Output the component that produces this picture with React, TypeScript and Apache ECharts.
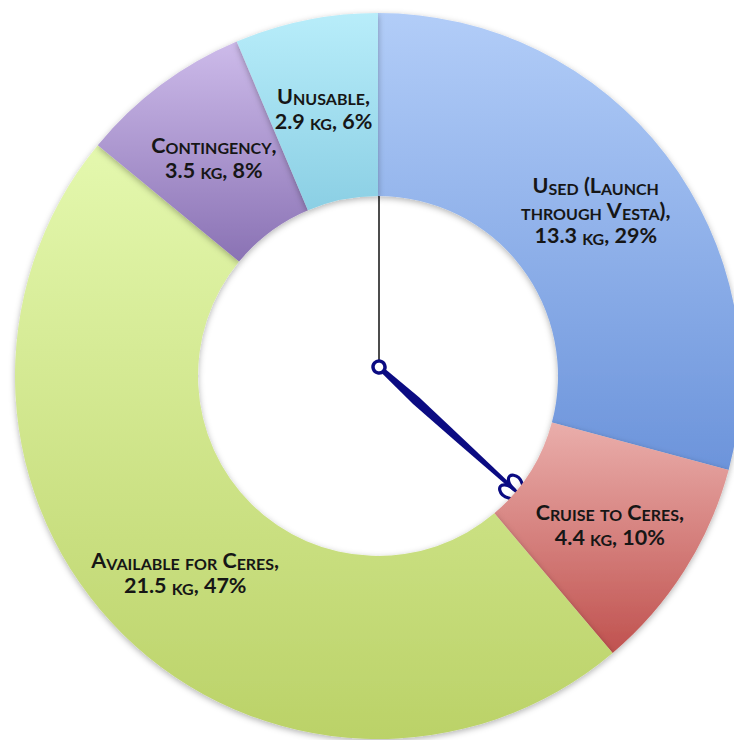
import React, { useEffect, useRef } from "react";
import * as echarts from "echarts";

// ---- data ----
const categories = [
  "Used (Launch through Vesta)",
  "Cruise to Ceres",
  "Available for Ceres",
  "Contingency",
  "Unusable",
];
const labelLines = [
  "Used (Launch\nthrough Vesta),",
  "Cruise to Ceres,",
  "Available for Ceres,",
  "Contingency,",
  "Unusable,",
];
const massKg = [13.3, 4.4, 21.5, 3.5, 2.9];
const percents = [29, 10, 47, 8, 6];

// ---- styles ----
const sliceColors: [string, string][] = [
  ["#b2cdf8", "#6c94db"],
  ["#eaaeab", "#c0524f"],
  ["#e4f8ae", "#bbd268"],
  ["#cdbbea", "#8a72b4"],
  ["#b8edfa", "#8bcfe4"],
];

const FONT = "Lato, 'Open Sans', sans-serif";
const BIG = 21.5;
const SMALL = 16;
const LH = 25;
const NAVY = "#0b0b82";

echarts.graphic.registerShape(
  "arrowTip",
  echarts.graphic.extendPath(
    "M206 0 L184 -10 C175 -15 166 -8 172 -3 C175 0 179 0 183 0 M206 0 L184 10 C175 15 166 8 172 3 C175 0 179 0 183 0",
    {}
  )
);

function smallCaps(line: string): string {
  let out = "";
  let cur = "";
  let curStyle = "";
  const flush = () => {
    if (cur) out += `{${curStyle}|${cur}}`;
    cur = "";
  };
  for (const ch of line) {
    const isLower = ch !== ch.toUpperCase() && ch === ch.toLowerCase();
    const st = isLower ? "s" : "b";
    if (st !== curStyle) {
      flush();
      curStyle = st;
    }
    cur += isLower ? ch.toUpperCase() : ch;
  }
  flush();
  return out;
}

export default function App() {
  const ref = useRef<HTMLDivElement>(null);
  useEffect(() => {
    if (!ref.current) return;
    const chart = echarts.init(ref.current, null, { renderer: "svg" });
    const textBase = { fontFamily: FONT, fontWeight: "bold" as const, color: "#161616" };
    const data = categories.map((name, i) => ({
      name,
      value: massKg[i],
      itemStyle: {
        color: new echarts.graphic.LinearGradient(0, 0, 0, 1, [
          { offset: 0, color: sliceColors[i][0] },
          { offset: 1, color: sliceColors[i][1] },
        ]),
      },
    }));
    const ang = Math.atan2(137, 151);
    chart.setOption({
      animation: false,
      series: [
        {
          type: "pie",
          center: [378, 376],
          radius: [180, 363],
          startAngle: 90,
          clockwise: true,
          silent: true,
          avoidLabelOverlap: false,
          itemStyle: {
            shadowBlur: 6,
            shadowColor: "rgba(0,0,0,0.3)",
            shadowOffsetY: 2,
          },
          label: {
            show: true,
            position: "inside",
            formatter: (p: any) => {
              const i = p.dataIndex;
              const lines = (labelLines[i] + "\n" + `${massKg[i].toFixed(1)} kg, ${percents[i]}%`).split("\n");
              return lines.map(smallCaps).join("\n");
            },
            rich: {
              b: { ...textBase, fontSize: BIG, lineHeight: LH, verticalAlign: "bottom" },
              s: { ...textBase, fontSize: SMALL, lineHeight: LH - 0.77 * (BIG - SMALL), verticalAlign: "bottom" },
            },
          },
          labelLine: { show: false },
          data,
        },
      ],
      graphic: [
        {
          type: "line",
          shape: { x1: 379, y1: 189, x2: 379, y2: 361 },
          style: { stroke: "#111", lineWidth: 1.5 },
        },
        {
          type: "group",
          x: 379,
          y: 367,
          rotation: -ang,
          children: [
            {
              type: "polygon",
              shape: {
                points: [
                  [6, -2.6],
                  [50, -4.5],
                  [110, -3.4],
                  [185, -1.6],
                  [205, 0],
                  [185, 1.6],
                  [110, 3.4],
                  [50, 4.5],
                  [6, 2.6],
                ],
              },
              style: { fill: NAVY },
            },
            {
              type: "circle",
              shape: { cx: 0, cy: 0, r: 6 },
              style: { fill: "#fff", stroke: NAVY, lineWidth: 3.4 },
            },
            {
              type: "arrowTip",
              x: 0,
              y: 0,
              style: { fill: "none", stroke: NAVY, lineWidth: 3.2, lineJoin: "miter" },
            },
          ],
        },
      ],
    });
    return () => chart.dispose();
  }, []);
  return (
    <div
      ref={ref}
      style={{ position: "absolute", left: 0, top: 0, width: 734, height: 740 }}
    />
  );
}
